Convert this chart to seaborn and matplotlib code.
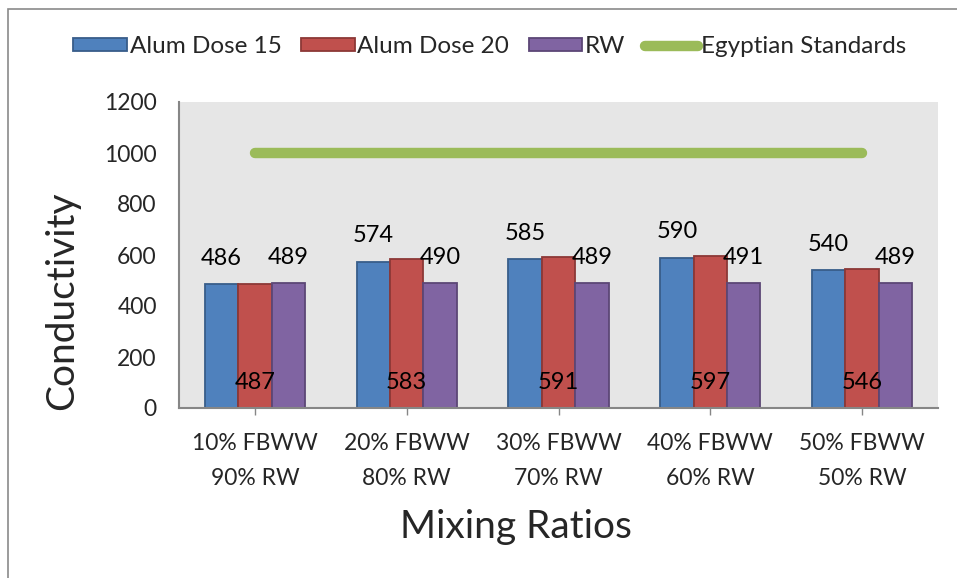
import matplotlib
matplotlib.use("Agg")
import matplotlib.pyplot as plt
import seaborn as sns
import pandas as pd
from matplotlib.patches import Rectangle, Patch
from matplotlib.lines import Line2D

categories = ["10% FBWW\n90% RW", "20% FBWW\n80% RW", "30% FBWW\n70% RW",
              "40% FBWW\n60% RW", "50% FBWW\n50% RW"]
alum15 = [486, 574, 585, 590, 540]
alum20 = [487, 583, 591, 597, 546]
rw = [489, 490, 489, 491, 489]
standard = [1000, 1000, 1000, 1000, 1000]
series_names = ["Alum Dose 15", "Alum Dose 20", "RW", "Egyptian Standards"]
yticks = [0, 200, 400, 600, 800, 1000, 1200]

colors = ["#4F81BD", "#C0504D", "#8064A2"]
edges = ["#385D8A", "#8C3836", "#5C4776"]
green = "#9BBB59"

sns.set_theme(style="white")
plt.rcParams["font.family"] = ["Lato", "DejaVu Sans"]

df = pd.DataFrame({
    "cat": categories * 3,
    "value": alum15 + alum20 + rw,
    "series": [series_names[0]] * 5 + [series_names[1]] * 5 + [series_names[2]] * 5,
})

fig = plt.figure(figsize=(9.57, 5.78), dpi=100)
ax = fig.add_axes([179 / 957, 1 - 408 / 578, 759 / 957, 306 / 578])
ax.set_facecolor("#E6E6E6")

sns.barplot(data=df, x="cat", y="value", hue="series", order=categories,
            hue_order=series_names[:3], palette=colors, width=0.66,
            ax=ax, legend=False, saturation=1, errorbar=None)

for cont, ec in zip(ax.containers, edges):
    for p in cont:
        p.set_edgecolor(ec)
        p.set_linewidth(1.3)

ax.plot(range(len(categories)), standard, color=green, lw=7.5,
        solid_capstyle="round", zorder=3)

fs = 16.5
# data labels
for i, cont in enumerate(ax.containers):
    for p in cont:
        xc = p.get_x() + p.get_width() / 2
        h = p.get_height()
        base = 0 if i == 1 else h
        ax.annotate(f"{h:.0f}", (xc, base), xytext=(0, 18.5), textcoords="offset points",
                    ha="center", va="center", fontsize=17, color="black", zorder=5)

ax.set_ylim(0, 1200)
ax.set_xlim(-0.5, 4.5)
ax.set_yticks(yticks)
ax.set_yticklabels([str(v) for v in yticks], fontsize=fs)
ax.set_xticks(range(len(categories)))
ax.set_xticklabels(categories, fontsize=fs, linespacing=1.8)
ax.tick_params(axis="y", length=0, pad=16)
ax.tick_params(axis="x", length=5, width=1, color="#868686", pad=13, bottom=True)

for s in ["top", "right"]:
    ax.spines[s].set_visible(False)
for s in ["left", "bottom"]:
    ax.spines[s].set_color("#868686")
    ax.spines[s].set_linewidth(1.5)

ax.set_xlabel("Mixing Ratios", fontsize=28, va="center")
ax.xaxis.set_label_coords(0.444, -0.389)
ax.set_ylabel("Conductivity", fontsize=28, va="center")
ax.yaxis.set_label_coords(-0.154, 0.35)

handles = [Patch(facecolor=c, edgecolor=e, lw=1.3) for c, e in zip(colors, edges)]
handles.append(Line2D([0], [0], color=green, lw=7.5, solid_capstyle="round"))
fig.legend(handles, series_names, loc="center", bbox_to_anchor=(0.512, 0.919),
           ncol=4, frameon=False, fontsize=17.5, handlelength=2.2, handleheight=0.42,
           handletextpad=0.12, columnspacing=0.8)

fig.patches.append(Rectangle((8 / 957, -0.05), 1.1, 1 - 9 / 578 + 0.05,
                             transform=fig.transFigure, fill=False,
                             edgecolor="#8A8A8A", lw=1.2))

fig.savefig("out.png", dpi=100)
